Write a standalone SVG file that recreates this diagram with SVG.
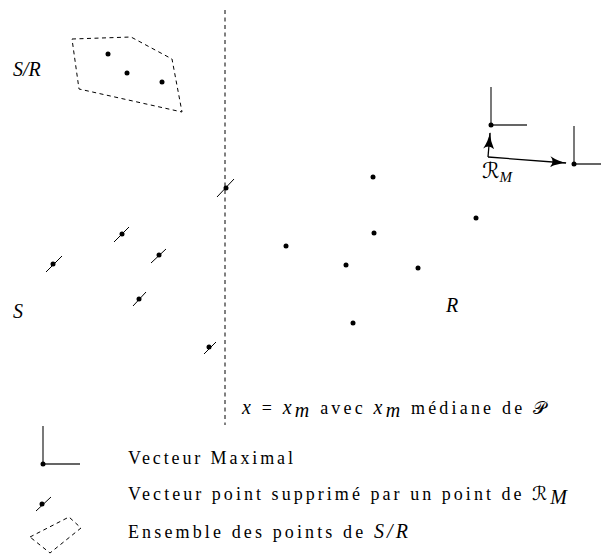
<svg xmlns="http://www.w3.org/2000/svg" width="601" height="556" viewBox="0 0 601 556">
<style>
.bg{fill:#fff}
.dash{fill:none;stroke:#000;stroke-width:1;stroke-dasharray:4 3.5}
.dot{fill:#000}
.sl{stroke:#000;stroke-width:1}
.vm{stroke:#333;stroke-width:1.3;fill:none}
.t{font-family:"Liberation Serif","DejaVu Serif",serif;font-size:18px;fill:#000}
.m{font-family:"Liberation Serif","DejaVu Serif",serif;font-style:italic;font-size:20px;fill:#000}
.cal{font-family:"DejaVu Serif","DejaVu Sans",serif;font-style:normal}
.ar{stroke:#000;stroke-width:1.3;fill:none}
</style>
<defs>
<marker id="ah" viewBox="0 0 17 11" refX="16" refY="5.5" markerWidth="17" markerHeight="11" markerUnits="userSpaceOnUse" orient="auto">
<path d="M0,0 Q8,4.5 17,5.5 Q8,6.5 0,11 Q5,5.5 0,0 Z" fill="#000"/>
</marker>
</defs>
<rect class="bg" x="0" y="0" width="601" height="556"/>

<g id="median-line">
<line class="dash" x1="225" y1="10" x2="225" y2="425"/>
</g>

<g id="set-SR">
<polygon class="dash" points="72,39 131,37 172,59 182,112 79,89"/>
<circle class="dot" cx="108" cy="54" r="2.5"/>
<circle class="dot" cx="127" cy="73" r="2.5"/>
<circle class="dot" cx="162" cy="82" r="2.5"/>
</g>
<g id="label-SR"><text class="m" x="13" y="76" font-size="21">S/R</text></g>
<g id="label-S"><text class="m" x="13" y="318">S</text></g>
<g id="label-R"><text class="m" x="446" y="312">R</text></g>

<g id="suppressed">
<g id="s1"><line class="sl" x1="217" y1="197" x2="234" y2="179"/><circle class="dot" cx="226" cy="188" r="2.5"/></g>
<g id="s2"><line class="sl" x1="114" y1="242" x2="129" y2="227"/><circle class="dot" cx="122" cy="234" r="2.5"/></g>
<g id="s3"><line class="sl" x1="151" y1="263" x2="166" y2="249"/><circle class="dot" cx="159" cy="255" r="2.5"/></g>
<g id="s4"><line class="sl" x1="46" y1="272" x2="62" y2="256"/><circle class="dot" cx="53" cy="264" r="2.5"/></g>
<g id="s5"><line class="sl" x1="133" y1="306" x2="146" y2="292"/><circle class="dot" cx="139" cy="299" r="2.5"/></g>
<g id="s6"><line class="sl" x1="204" y1="354" x2="216" y2="342"/><circle class="dot" cx="209" cy="347" r="2.5"/></g>
</g>

<g id="points-R">
<circle class="dot" cx="373" cy="177" r="2.5"/>
<circle class="dot" cx="374" cy="233" r="2.5"/>
<circle class="dot" cx="286" cy="246" r="2.5"/>
<circle class="dot" cx="346" cy="265" r="2.5"/>
<circle class="dot" cx="418" cy="268" r="2.5"/>
<circle class="dot" cx="353" cy="323" r="2.5"/>
<circle class="dot" cx="476" cy="218" r="2.5"/>
</g>

<g id="vmax1">
<path class="vm" d="M491,87 V125 H527"/>
<circle class="dot" cx="491" cy="125" r="2.5"/>
</g>
<g id="vmax2">
<path class="vm" d="M574,126 V164 H601"/>
<circle class="dot" cx="574" cy="164" r="2.5"/>
</g>

<g id="connectors">
<line class="ar" x1="488" y1="157" x2="490" y2="133" marker-end="url(#ah)"/>
<line class="ar" x1="488" y1="157" x2="566" y2="163" marker-end="url(#ah)"/>
</g>
<g id="label-RM"><text class="m" x="482" y="178"><tspan class="cal" font-size="22">ℛ</tspan><tspan font-size="15" dy="4">M</tspan></text></g>

<g id="median-label">
<text class="t" x="242" y="414" textLength="304" lengthAdjust="spacing"><tspan class="m" font-size="18">x</tspan> = <tspan class="m" font-size="18">x</tspan><tspan class="m" font-size="13" dy="3">m</tspan><tspan dy="-3"> avec </tspan><tspan class="m" font-size="18">x</tspan><tspan class="m" font-size="13" dy="3">m</tspan><tspan dy="-3"> médiane de </tspan><tspan class="cal" font-style="italic">𝒫</tspan></text>
</g>

<g id="legend-vmax">
<path class="vm" d="M43,426 V464 H80"/>
<circle class="dot" cx="43" cy="464" r="2.5"/>
<text class="t" x="128" y="464" textLength="165" lengthAdjust="spacing">Vecteur Maximal</text>
</g>
<g id="legend-suppressed">
<line class="sl" x1="36" y1="511" x2="51" y2="497"/>
<circle class="dot" cx="42" cy="504" r="2.5"/>
<text class="t" x="128" y="500" textLength="439" lengthAdjust="spacing">Vecteur point supprimé par un point de <tspan class="cal" font-size="19">ℛ</tspan><tspan class="m" font-size="15" dy="4">M</tspan></text>
</g>
<g id="legend-set">
<polygon class="dash" points="30,537 69,517 81,528 50,553"/>
<text class="t" x="128" y="538" textLength="280" lengthAdjust="spacing">Ensemble des points de <tspan class="m" font-size="18">S/R</tspan></text>
</g>
</svg>
